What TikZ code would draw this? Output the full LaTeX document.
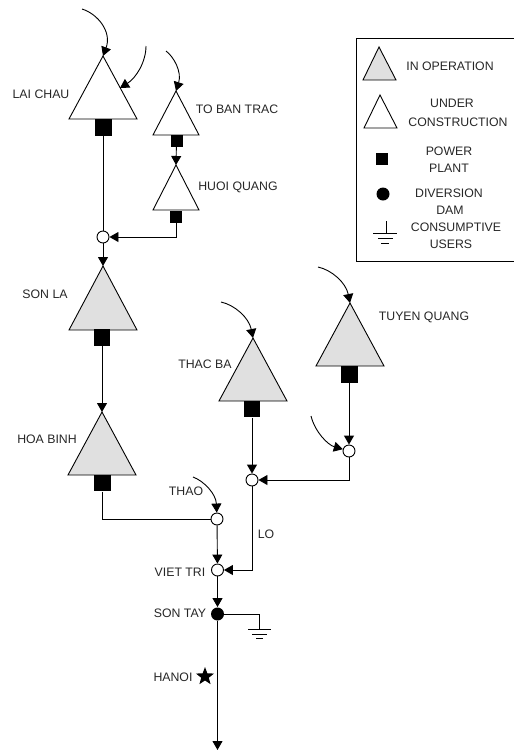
\documentclass[tikz,border=0pt]{standalone}
\usepackage{fontspec}
\setmainfont{Liberation Sans}
\usetikzlibrary{arrows.meta,shapes.geometric}
\tikzset{
  x=1pt,y=-1pt,
  every path/.style={line width=0.9pt},
  lab/.style={inner sep=0pt,font=\fontsize{12.3}{14}\selectfont,text=black!85},
  plant/.style={fill=black,draw=none,minimum width=#1,minimum height=#1,inner sep=0pt,rectangle},
  junc/.style={circle,draw=black,fill=white,minimum size=12pt,inner sep=0pt},
  dam/.style={circle,fill=black,draw=none,minimum size=13pt,inner sep=0pt},
  flow/.style={-{Triangle[length=9pt,width=10pt]},shorten >=0pt},
  oper/.style={draw=black,fill=black!12,line join=miter},
  uc/.style={draw=black,fill=white,line join=miter},
  starnode/.style={star,star points=5,star point ratio=2.4,fill=black,draw=none,minimum size=19pt,inner sep=0pt},
}
\begin{document}
\begin{tikzpicture}
\useasboundingbox (0,0) rectangle (514,753);
% apex coordinates
\coordinate (lcA) at (103,56);
\coordinate (tbA) at (176,91);
\coordinate (hqA) at (176,165);
\coordinate (slA) at (103,266);
\coordinate (hbA) at (102,412);
\coordinate (tcA) at (253,338);
\coordinate (tqA) at (350,303);
% triangles
\draw[uc] (lcA) -- (69,119) -- (137,119) -- cycle;
\draw[uc] (tbA) -- (153,135) -- (199,135) -- cycle;
\draw[uc] (hqA) -- (153,210) -- (199,210) -- cycle;
\draw[oper] (slA) -- (69,330) -- (137,330) -- cycle;
\draw[oper] (hbA) -- (68,475) -- (136,475) -- cycle;
\draw[oper] (tcA) -- (219,401) -- (287,401) -- cycle;
\draw[oper] (tqA) -- (316,366) -- (384,366) -- cycle;
% plants
\node[plant=17pt] (lcP) at (103,127.5) {};
\node[plant=12pt] (tbP) at (176.5,140.5) {};
\node[plant=12pt] (hqP) at (176,216.5) {};
\node[plant=16.5pt] (slP) at (102,337.5) {};
\node[plant=16.5pt] (hbP) at (102.5,483) {};
\node[plant=16.5pt] (tcP) at (252,409) {};
\node[plant=17pt] (tqP) at (349,374) {};
% junctions
\node[junc] (j1) at (103,237) {};
\node[junc] (j2) at (349,451) {};
\node[junc] (j3) at (252,480) {};
\node[junc] (j4) at (217,519) {};
\node[junc] (vt) at (217.5,570) {};
\node[dam] (st) at (217.5,614) {};
\coordinate (gnd) at (259,629);
\coordinate (sea) at (217.5,750);
% connectors
\draw (lcP) -- (j1);
\draw[flow] (tbP) -- (hqA);
\draw[flow] (hqP.south) |- (j1);
\draw[flow] (j1) -- (slA);
\draw[flow] (slP) -- (hbA);
\draw (hbP.south) |- (j4);
\draw[flow] (tcP) -- (j3);
\draw[flow] (tqP) -- (j2);
\draw[flow] (j2) |- (j3);
\draw[flow] (j4) -- (vt);
\draw[flow] (j3) |- (vt);
\draw[flow] (vt) -- (st);
\draw (st) -| (gnd);
\draw[flow] (st) -- (sea);
% ground
\draw (248,629) -- (271,629);
\draw[line width=0.8pt] (252,634) -- (267,634);
\draw[line width=0.8pt] (256,638.5) -- (263,638.5);
% inflows
\coordinate (r1) at (82,9);
\coordinate (r2) at (146,46);
\coordinate (r3) at (166,51);
\coordinate (r4) at (221,302);
\coordinate (r5) at (318,267);
\coordinate (r6) at (311,416);
\coordinate (r7) at (193,477);
\draw[flow] (r1) .. controls (98,14) and (112,32) .. (lcA);
\draw[flow] (r2) .. controls (146,62) and (136,78) .. (120,88);
\draw[flow] (r3) .. controls (174,57) and (182,72) .. (tbA);
\draw[flow] (r4) .. controls (235,305) and (249,318) .. (tcA);
\draw[flow] (r5) .. controls (332,270) and (346,283) .. (tqA);
\draw[flow] (r6) .. controls (315,432) and (328,445) .. (j2);
\draw[flow] (r7) .. controls (204,481) and (216,494) .. (j4);
% labels
\node[lab] (tLC) at (41,94) {LAI CHAU};
\node[lab] (tTB) at (237,109) {TO BAN TRAC};
\node[lab] (tHQ) at (238,187) {HUOI QUANG};
\node[lab] (tSL) at (45,294) {SON LA};
\node[lab] (tHB) at (47,439) {HOA BINH};
\node[lab] (tTC) at (205,364) {THAC BA};
\node[lab] (tTQ) at (424,317) {TUYEN QUANG};
\node[lab] (tTH) at (186,491) {THAO};
\node[lab] (tLO) at (266,534) {LO};
\node[lab] (tVT) at (180,572) {VIET TRI};
\node[lab] (tST) at (180,613) {SON TAY};
\node[lab] (tHN) at (173,677) {HANOI};
\node[starnode] (star) at (205,676.5) {};
% legend
\draw (356,38) rectangle (514,261);
\draw[oper] (379,47) -- (363,80) -- (396,80) -- cycle;
\draw[uc] (380,95) -- (364,128) -- (397,128) -- cycle;
\node[plant=12pt] (lgP) at (382,159) {};
\node[dam] (lgD) at (383,194) {};
\draw (386,221) -- (386,233);
\draw (373,233) -- (397,233);
\draw[line width=0.8pt] (378,238) -- (393,238);
\draw[line width=0.8pt] (381,243) -- (389,243);
\node[lab] at (450,66) {IN OPERATION};
\node[lab] at (452,103) {UNDER};
\node[lab] at (458,122) {CONSTRUCTION};
\node[lab] at (449,151) {POWER};
\node[lab] at (449,168) {PLANT};
\node[lab] at (449,193) {DIVERSION};
\node[lab] at (450,210) {DAM};
\node[lab] at (456,227) {CONSUMPTIVE};
\node[lab] at (451,244) {USERS};
\end{tikzpicture}
\end{document}
